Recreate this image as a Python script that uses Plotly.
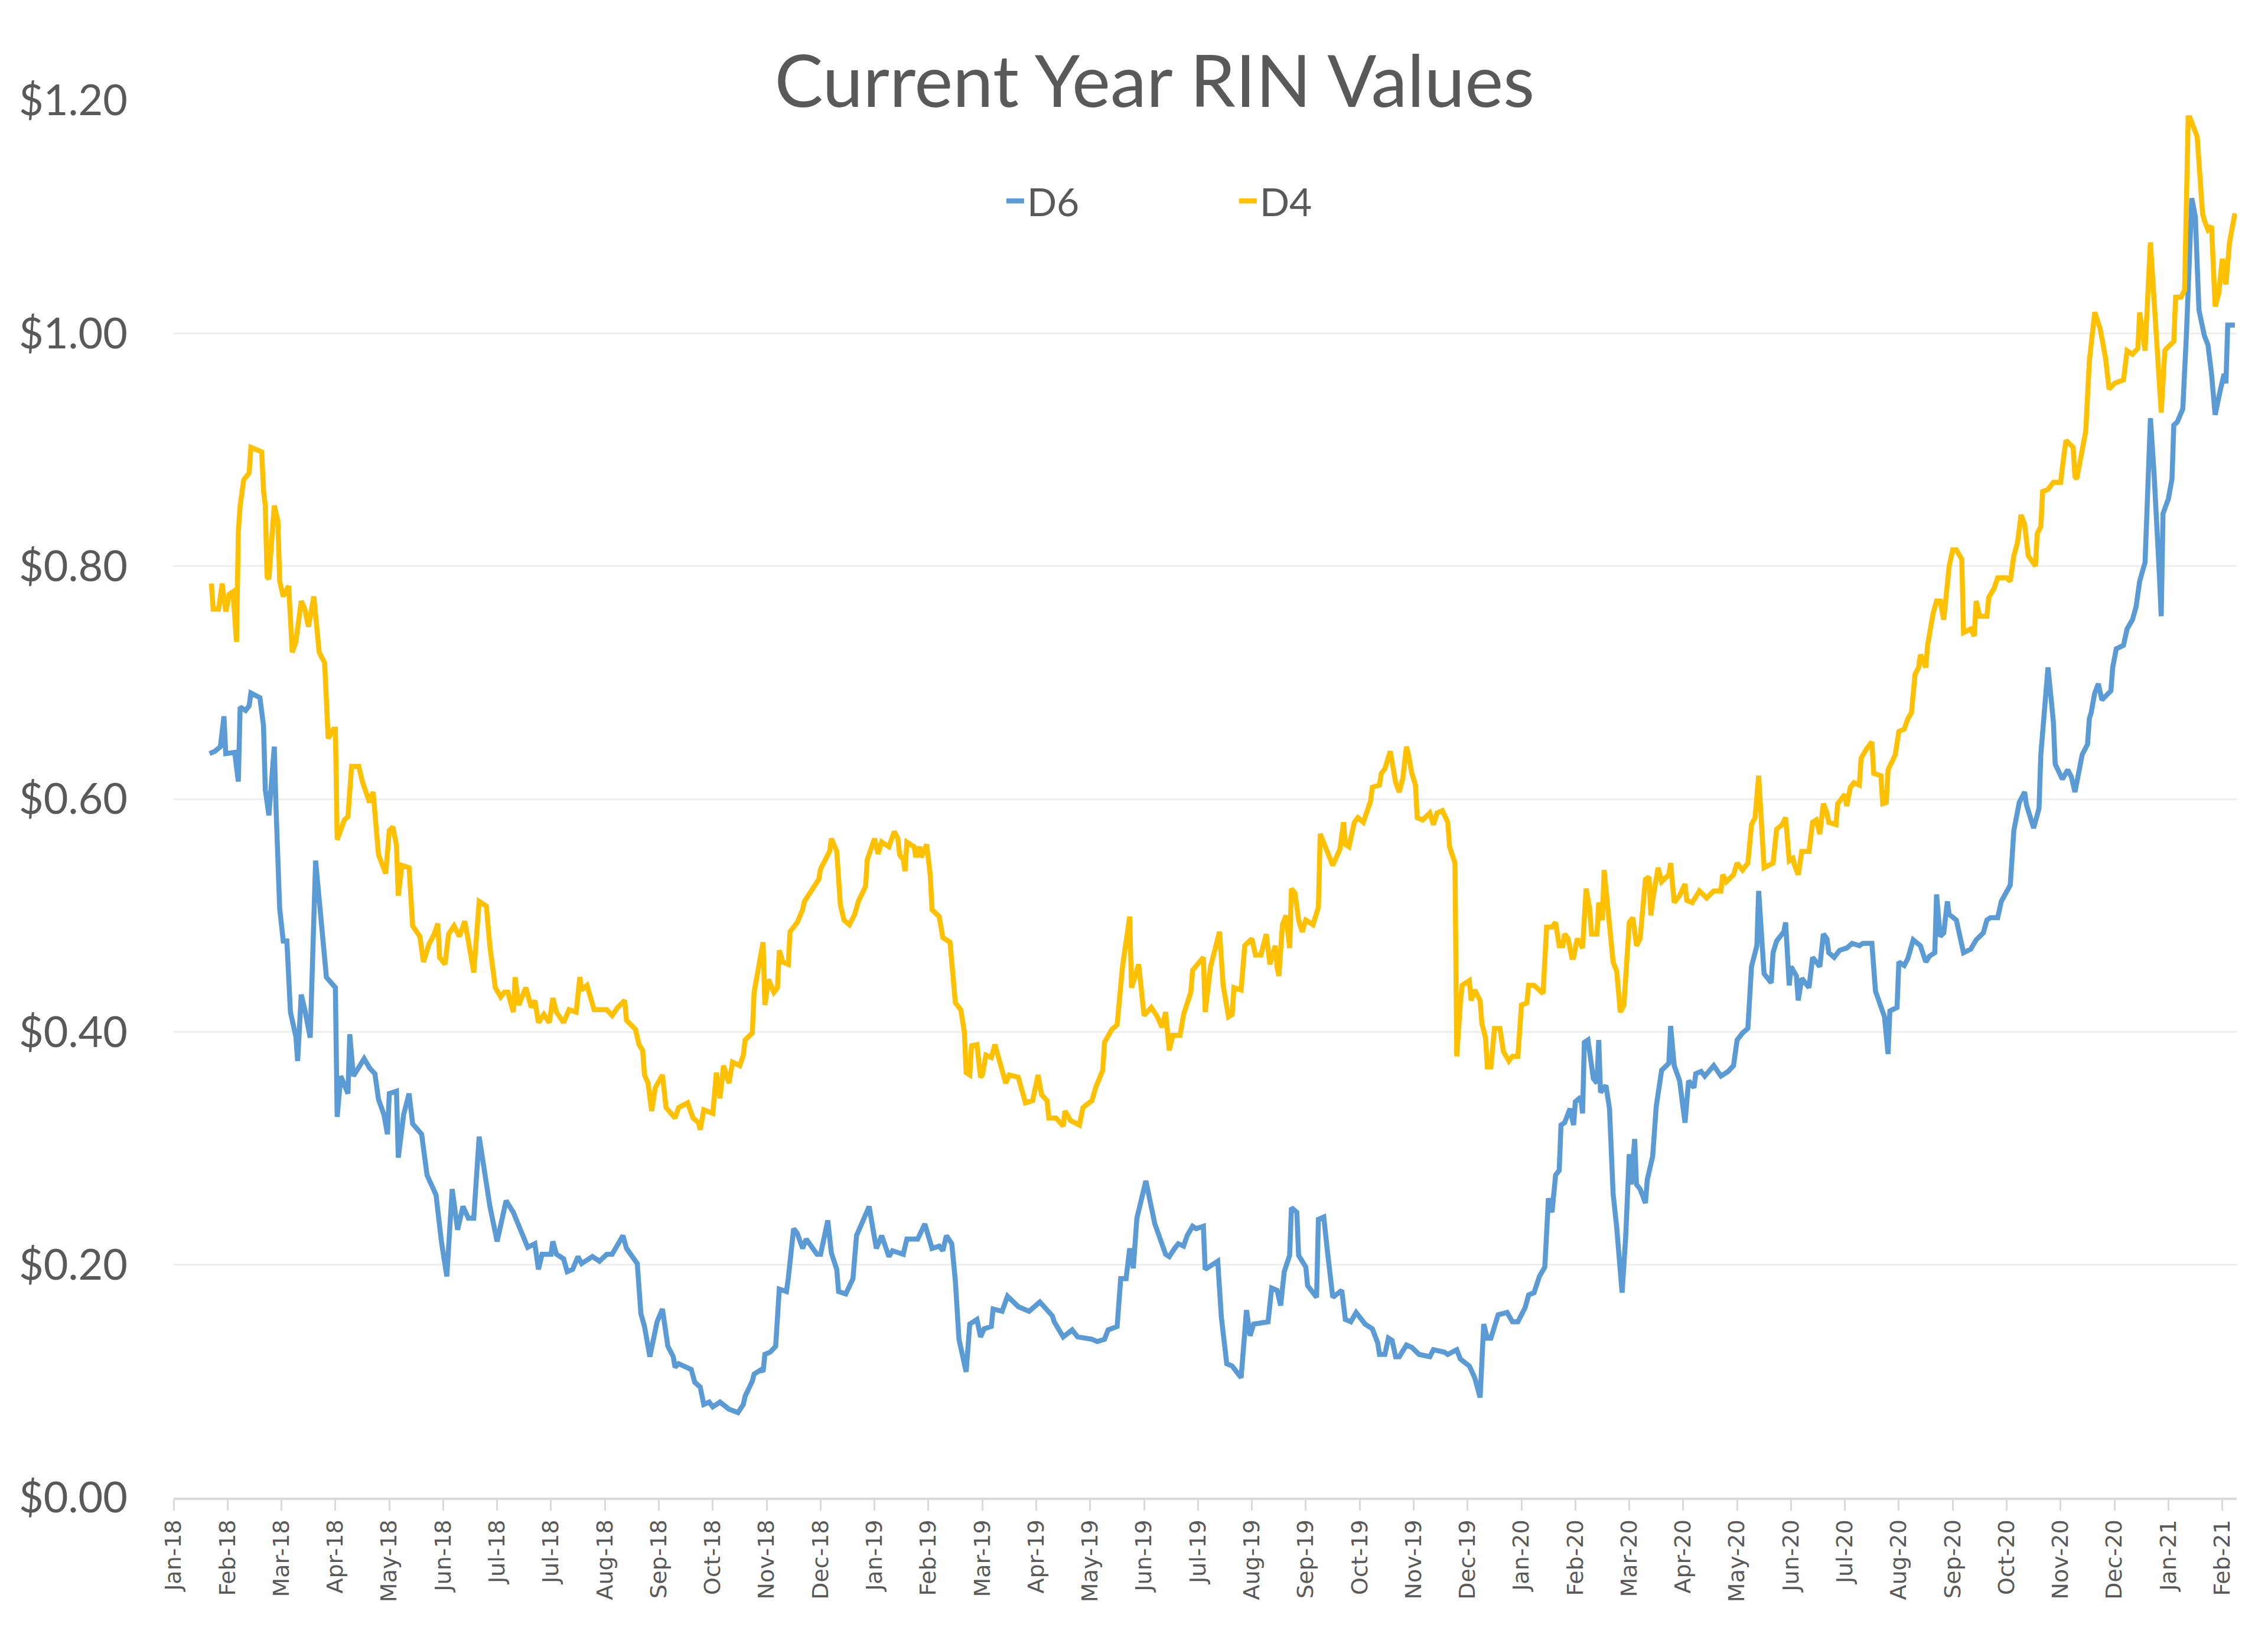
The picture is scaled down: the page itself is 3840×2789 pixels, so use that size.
import plotly.graph_objects as go

# ---------------- data ----------------
d4_dates = [
    "2018-01-23", "2018-01-24", "2018-01-27", "2018-01-29", "2018-01-31", "2018-02-02", "2018-02-04", "2018-02-06",
    "2018-02-07", "2018-02-08", "2018-02-10", "2018-02-13", "2018-02-14", "2018-02-17", "2018-02-20", "2018-02-21",
    "2018-02-22", "2018-02-23", "2018-02-24", "2018-02-27", "2018-03-01", "2018-03-02", "2018-03-04", "2018-03-07",
    "2018-03-09", "2018-03-11", "2018-03-14", "2018-03-16", "2018-03-18", "2018-03-21", "2018-03-24", "2018-03-27",
    "2018-03-29", "2018-04-01", "2018-04-02", "2018-04-03", "2018-04-07", "2018-04-09", "2018-04-11", "2018-04-15",
    "2018-04-17", "2018-04-21", "2018-04-23", "2018-04-26", "2018-04-30", "2018-05-02", "2018-05-04", "2018-05-06",
    "2018-05-07", "2018-05-09", "2018-05-13", "2018-05-15", "2018-05-19", "2018-05-21", "2018-05-24", "2018-05-27",
    "2018-05-29", "2018-05-30", "2018-06-02", "2018-06-04", "2018-06-07", "2018-06-10", "2018-06-13", "2018-06-15",
    "2018-06-18", "2018-06-21", "2018-06-25", "2018-06-27", "2018-06-30", "2018-07-03", "2018-07-05", "2018-07-07",
    "2018-07-10", "2018-07-11", "2018-07-13", "2018-07-17", "2018-07-20", "2018-07-22", "2018-07-24", "2018-07-27",
    "2018-07-30", "2018-08-01", "2018-08-03", "2018-08-07", "2018-08-10", "2018-08-14", "2018-08-16", "2018-08-17",
    "2018-08-20", "2018-08-24", "2018-08-27", "2018-08-31", "2018-09-03", "2018-09-06", "2018-09-10", "2018-09-11",
    "2018-09-16", "2018-09-18", "2018-09-20", "2018-09-21", "2018-09-23", "2018-09-25", "2018-09-27", "2018-10-01",
    "2018-10-03", "2018-10-06", "2018-10-08", "2018-10-10", "2018-10-15", "2018-10-18", "2018-10-21", "2018-10-22",
    "2018-10-24", "2018-10-29", "2018-10-31", "2018-11-02", "2018-11-04", "2018-11-07", "2018-11-09", "2018-11-13",
    "2018-11-15", "2018-11-16", "2018-11-20", "2018-11-21", "2018-11-26", "2018-11-27", "2018-11-29", "2018-12-02",
    "2018-12-04", "2018-12-05", "2018-12-07", "2018-12-10", "2018-12-11", "2018-12-15", "2018-12-18", "2018-12-19",
    "2018-12-25", "2018-12-27", "2018-12-28", "2019-01-02", "2019-01-03", "2019-01-06", "2019-01-08", "2019-01-10",
    "2019-01-13", "2019-01-16", "2019-01-18", "2019-01-22", "2019-01-23", "2019-01-27", "2019-01-29", "2019-01-31",
    "2019-02-04", "2019-02-07", "2019-02-09", "2019-02-10", "2019-02-12", "2019-02-13", "2019-02-14", "2019-02-18",
    "2019-02-19", "2019-02-21", "2019-02-22", "2019-02-25", "2019-02-27", "2019-02-28", "2019-03-04", "2019-03-06",
    "2019-03-10", "2019-03-12", "2019-03-13", "2019-03-16", "2019-03-18", "2019-03-19", "2019-03-21", "2019-03-22",
    "2019-03-25", "2019-03-27", "2019-03-28", "2019-03-30", "2019-04-02", "2019-04-04", "2019-04-07", "2019-04-10",
    "2019-04-12", "2019-04-17", "2019-04-21", "2019-04-25", "2019-04-28", "2019-04-30", "2019-05-03", "2019-05-04",
    "2019-05-08", "2019-05-12", "2019-05-13", "2019-05-16", "2019-05-21", "2019-05-23", "2019-05-28", "2019-05-30",
    "2019-06-03", "2019-06-04", "2019-06-08", "2019-06-11", "2019-06-14", "2019-06-18", "2019-06-19", "2019-06-23",
    "2019-06-26", "2019-06-30", "2019-07-03", "2019-07-06", "2019-07-08", "2019-07-10", "2019-07-12", "2019-07-16",
    "2019-07-18", "2019-07-22", "2019-07-23", "2019-07-29", "2019-07-30", "2019-08-02", "2019-08-04", "2019-08-07",
    "2019-08-09", "2019-08-12", "2019-08-14", "2019-08-15", "2019-08-19", "2019-08-21", "2019-08-25", "2019-08-27",
    "2019-08-30", "2019-09-02", "2019-09-04", "2019-09-07", "2019-09-08", "2019-09-09", "2019-09-11", "2019-09-13",
    "2019-09-15", "2019-09-16", "2019-09-18", "2019-09-20", "2019-09-22", "2019-09-24", "2019-09-28", "2019-10-01",
    "2019-10-02", "2019-10-05", "2019-10-09", "2019-10-13", "2019-10-15", "2019-10-16", "2019-10-18", "2019-10-21",
    "2019-10-23", "2019-10-26", "2019-10-30", "2019-10-31", "2019-11-04", "2019-11-05", "2019-11-07", "2019-11-10",
    "2019-11-13", "2019-11-15", "2019-11-17", "2019-11-19", "2019-11-20", "2019-11-22", "2019-11-24", "2019-11-25",
    "2019-11-28", "2019-12-02", "2019-12-04", "2019-12-06", "2019-12-09", "2019-12-12", "2019-12-13", "2019-12-16",
    "2019-12-17", "2019-12-19", "2019-12-20", "2019-12-24", "2019-12-25", "2019-12-27", "2019-12-30", "2019-12-31",
    "2020-01-02", "2020-01-03", "2020-01-05", "2020-01-07", "2020-01-10", "2020-01-12", "2020-01-15", "2020-01-17",
    "2020-01-20", "2020-01-22", "2020-01-25", "2020-01-26", "2020-01-29", "2020-02-03", "2020-02-05", "2020-02-08",
    "2020-02-10", "2020-02-12", "2020-02-14", "2020-02-15", "2020-02-17", "2020-02-19", "2020-02-20", "2020-02-22",
    "2020-02-25", "2020-02-27", "2020-02-29", "2020-03-01", "2020-03-04", "2020-03-05", "2020-03-07", "2020-03-08",
    "2020-03-10", "2020-03-13", "2020-03-15", "2020-03-17", "2020-03-19", "2020-03-22", "2020-03-24", "2020-03-26",
    "2020-03-28", "2020-03-31", "2020-04-02", "2020-04-03", "2020-04-04", "2020-04-07", "2020-04-09", "2020-04-13",
    "2020-04-14", "2020-04-16", "2020-04-19", "2020-04-22", "2020-04-23", "2020-04-26", "2020-04-30", "2020-05-04",
    "2020-05-08", "2020-05-12", "2020-05-13", "2020-05-15", "2020-05-19", "2020-05-21", "2020-05-24", "2020-05-27",
    "2020-05-29", "2020-05-31", "2020-06-02", "2020-06-05", "2020-06-10", "2020-06-11", "2020-06-12", "2020-06-15",
    "2020-06-17", "2020-06-19", "2020-06-21", "2020-06-22", "2020-06-24", "2020-06-26", "2020-06-30", "2020-07-02",
    "2020-07-04", "2020-07-06", "2020-07-08", "2020-07-10", "2020-07-11", "2020-07-15", "2020-07-16", "2020-07-20",
    "2020-07-21", "2020-07-23", "2020-07-25", "2020-07-28", "2020-07-29", "2020-08-01", "2020-08-04", "2020-08-05",
    "2020-08-09", "2020-08-10", "2020-08-12", "2020-08-13", "2020-08-17", "2020-08-19", "2020-08-22", "2020-08-24",
    "2020-08-26", "2020-08-28", "2020-08-30", "2020-08-31", "2020-09-03", "2020-09-04", "2020-09-07", "2020-09-09",
    "2020-09-11", "2020-09-13", "2020-09-15", "2020-09-16", "2020-09-18", "2020-09-20", "2020-09-23", "2020-09-24",
    "2020-09-28", "2020-09-30", "2020-10-01", "2020-10-03", "2020-10-07", "2020-10-08", "2020-10-11", "2020-10-13",
    "2020-10-18", "2020-10-20", "2020-10-22", "2020-10-24", "2020-10-26", "2020-10-28", "2020-10-30", "2020-11-03",
    "2020-11-04", "2020-11-06", "2020-11-07", "2020-11-10", "2020-11-13", "2020-11-17", "2020-11-19", "2020-11-20",
    "2020-11-24", "2020-11-25", "2020-11-26", "2020-11-29", "2020-12-01", "2020-12-03", "2020-12-06", "2020-12-09",
    "2020-12-12", "2020-12-14", "2020-12-17", "2020-12-22", "2020-12-24", "2020-12-27", "2020-12-30", "2020-12-31",
    "2021-01-01", "2021-01-03", "2021-01-06", "2021-01-08", "2021-01-09", "2021-01-11", "2021-01-12", "2021-01-14",
    "2021-01-15", "2021-01-19", "2021-01-20", "2021-01-23", "2021-01-25", "2021-01-27", "2021-01-28", "2021-02-01",
    "2021-02-03", "2021-02-04", "2021-02-05", "2021-02-07", "2021-02-09", "2021-02-11", "2021-02-13", "2021-02-15",
    "2021-02-17", "2021-02-19", "2021-02-22",
]
d4_values = [
    0.785, 0.763, 0.763, 0.785, 0.761, 0.776, 0.778, 0.735,
    0.830, 0.852, 0.874, 0.880, 0.902, 0.900, 0.898, 0.865,
    0.852, 0.791, 0.789, 0.852, 0.839, 0.787, 0.774, 0.783,
    0.726, 0.735, 0.770, 0.763, 0.748, 0.774, 0.726, 0.717,
    0.652, 0.660, 0.660, 0.565, 0.582, 0.585, 0.628, 0.628,
    0.615, 0.597, 0.606, 0.552, 0.536, 0.573, 0.576, 0.560,
    0.517, 0.543, 0.541, 0.491, 0.482, 0.460, 0.475, 0.484,
    0.493, 0.464, 0.458, 0.484, 0.491, 0.482, 0.495, 0.478,
    0.451, 0.512, 0.508, 0.473, 0.438, 0.430, 0.434, 0.434,
    0.417, 0.447, 0.423, 0.438, 0.421, 0.427, 0.408, 0.415,
    0.408, 0.429, 0.417, 0.408, 0.419, 0.417, 0.447, 0.436,
    0.440, 0.419, 0.419, 0.419, 0.414, 0.421, 0.427, 0.410,
    0.402, 0.389, 0.384, 0.363, 0.356, 0.332, 0.352, 0.363,
    0.335, 0.330, 0.326, 0.335, 0.339, 0.326, 0.322, 0.316,
    0.333, 0.330, 0.365, 0.343, 0.371, 0.356, 0.374, 0.371,
    0.380, 0.393, 0.399, 0.434, 0.477, 0.423, 0.445, 0.434,
    0.438, 0.470, 0.460, 0.458, 0.486, 0.494, 0.505, 0.512,
    0.527, 0.531, 0.540, 0.555, 0.566, 0.555, 0.509, 0.496,
    0.492, 0.501, 0.512, 0.525, 0.548, 0.566, 0.553, 0.563,
    0.559, 0.572, 0.566, 0.552, 0.548, 0.538, 0.563, 0.559,
    0.550, 0.559, 0.550, 0.561, 0.535, 0.505, 0.499, 0.481,
    0.477, 0.445, 0.425, 0.419, 0.400, 0.365, 0.363, 0.388,
    0.389, 0.361, 0.363, 0.380, 0.378, 0.389, 0.371, 0.356,
    0.363, 0.361, 0.339, 0.341, 0.363, 0.346, 0.341, 0.326,
    0.326, 0.319, 0.332, 0.324, 0.320, 0.335, 0.341, 0.352,
    0.367, 0.391, 0.402, 0.406, 0.456, 0.499, 0.438, 0.458,
    0.414, 0.421, 0.414, 0.404, 0.417, 0.384, 0.397, 0.397,
    0.415, 0.434, 0.453, 0.464, 0.417, 0.456, 0.468, 0.486,
    0.440, 0.413, 0.415, 0.438, 0.436, 0.474, 0.480, 0.466,
    0.466, 0.484, 0.458, 0.474, 0.456, 0.448, 0.492, 0.500,
    0.472, 0.523, 0.519, 0.496, 0.486, 0.496, 0.492, 0.507,
    0.570, 0.559, 0.543, 0.557, 0.580, 0.561, 0.559, 0.580,
    0.584, 0.580, 0.598, 0.610, 0.612, 0.622, 0.626, 0.641,
    0.614, 0.606, 0.618, 0.645, 0.639, 0.622, 0.612, 0.584,
    0.582, 0.588, 0.578, 0.588, 0.590, 0.580, 0.559, 0.545,
    0.379, 0.425, 0.440, 0.444, 0.427, 0.436, 0.427, 0.407,
    0.395, 0.370, 0.370, 0.403, 0.403, 0.383, 0.375, 0.379,
    0.379, 0.423, 0.425, 0.440, 0.440, 0.433, 0.490, 0.490,
    0.494, 0.474, 0.474, 0.484, 0.480, 0.464, 0.464, 0.480,
    0.472, 0.523, 0.505, 0.484, 0.484, 0.511, 0.496, 0.539,
    0.505, 0.460, 0.452, 0.417, 0.423, 0.494, 0.498, 0.474,
    0.480, 0.531, 0.533, 0.500, 0.513, 0.541, 0.529, 0.535,
    0.545, 0.511, 0.517, 0.527, 0.513, 0.511, 0.521, 0.515,
    0.521, 0.521, 0.535, 0.529, 0.535, 0.545, 0.539, 0.545,
    0.578, 0.584, 0.620, 0.541, 0.545, 0.565, 0.574, 0.578,
    0.584, 0.547, 0.549, 0.543, 0.535, 0.555, 0.555, 0.580,
    0.582, 0.570, 0.596, 0.588, 0.580, 0.578, 0.596, 0.604,
    0.594, 0.610, 0.614, 0.612, 0.635, 0.643, 0.649, 0.622,
    0.620, 0.596, 0.597, 0.625, 0.638, 0.658, 0.660, 0.669,
    0.674, 0.707, 0.713, 0.724, 0.713, 0.732, 0.759, 0.770,
    0.770, 0.754, 0.792, 0.800, 0.814, 0.814, 0.806, 0.743,
    0.746, 0.740, 0.770, 0.757, 0.757, 0.773, 0.781, 0.790,
    0.790, 0.787, 0.809, 0.820, 0.844, 0.836, 0.809, 0.800,
    0.828, 0.834, 0.864, 0.866, 0.872, 0.872, 0.897, 0.908,
    0.902, 0.877, 0.875, 0.897, 0.916, 0.976, 1.018, 1.004,
    0.979, 0.952, 0.957, 0.960, 0.985, 0.982, 0.987, 1.018,
    1.009, 0.985, 1.078, 1.029, 1.007, 0.968, 0.932, 0.985,
    0.987, 0.993, 1.031, 1.031, 1.037, 1.185, 1.185, 1.169,
    1.114, 1.103, 1.097, 1.089, 1.092, 1.023, 1.034, 1.064,
    1.042, 1.078, 1.103,
]

d6_dates = [
    "2018-01-22", "2018-01-25", "2018-01-28", "2018-01-30", "2018-01-31", "2018-02-03", "2018-02-05", "2018-02-07",
    "2018-02-08", "2018-02-11", "2018-02-13", "2018-02-14", "2018-02-16", "2018-02-19", "2018-02-21", "2018-02-22",
    "2018-02-24", "2018-02-27", "2018-02-28", "2018-03-02", "2018-03-04", "2018-03-06", "2018-03-08", "2018-03-11",
    "2018-03-12", "2018-03-14", "2018-03-16", "2018-03-19", "2018-03-22", "2018-03-24", "2018-03-27", "2018-03-28",
    "2018-04-02", "2018-04-03", "2018-04-05", "2018-04-09", "2018-04-10", "2018-04-12", "2018-04-18", "2018-04-21",
    "2018-04-24", "2018-04-26", "2018-04-29", "2018-05-01", "2018-05-02", "2018-05-06", "2018-05-07", "2018-05-10",
    "2018-05-13", "2018-05-15", "2018-05-20", "2018-05-23", "2018-05-28", "2018-05-31", "2018-06-03", "2018-06-06",
    "2018-06-09", "2018-06-12", "2018-06-15", "2018-06-18", "2018-06-21", "2018-06-23", "2018-06-27", "2018-07-01",
    "2018-07-06", "2018-07-10", "2018-07-14", "2018-07-18", "2018-07-22", "2018-07-24", "2018-07-26", "2018-07-31",
    "2018-08-01", "2018-08-03", "2018-08-07", "2018-08-09", "2018-08-12", "2018-08-15", "2018-08-17", "2018-08-23",
    "2018-08-27", "2018-08-31", "2018-09-03", "2018-09-09", "2018-09-11", "2018-09-14", "2018-09-17", "2018-09-19",
    "2018-09-21", "2018-09-24", "2018-09-28", "2018-10-01", "2018-10-04", "2018-10-07", "2018-10-08", "2018-10-10",
    "2018-10-17", "2018-10-19", "2018-10-22", "2018-10-24", "2018-10-27", "2018-10-29", "2018-11-02", "2018-11-07",
    "2018-11-12", "2018-11-15", "2018-11-16", "2018-11-20", "2018-11-21", "2018-11-25", "2018-11-26", "2018-11-27",
    "2018-11-30", "2018-12-03", "2018-12-05", "2018-12-09", "2018-12-10", "2018-12-13", "2018-12-15", "2018-12-18",
    "2018-12-20", "2018-12-26", "2018-12-28", "2019-01-01", "2019-01-03", "2019-01-06", "2019-01-07", "2019-01-11",
    "2019-01-15", "2019-01-17", "2019-01-23", "2019-01-24", "2019-01-28", "2019-01-31", "2019-02-04", "2019-02-06",
    "2019-02-12", "2019-02-14", "2019-02-20", "2019-02-24", "2019-02-28", "2019-03-04", "2019-03-06", "2019-03-08",
    "2019-03-11", "2019-03-13", "2019-03-15", "2019-03-17", "2019-03-19", "2019-03-21", "2019-03-25", "2019-03-27",
    "2019-03-29", "2019-04-02", "2019-04-03", "2019-04-08", "2019-04-11", "2019-04-17", "2019-04-23", "2019-04-29",
    "2019-05-06", "2019-05-07", "2019-05-12", "2019-05-17", "2019-05-20", "2019-05-28", "2019-05-31", "2019-06-04",
    "2019-06-06", "2019-06-11", "2019-06-13", "2019-06-16", "2019-06-18", "2019-06-20", "2019-06-22", "2019-06-27",
    "2019-06-30", "2019-07-02", "2019-07-08", "2019-07-10", "2019-07-13", "2019-07-15", "2019-07-18", "2019-07-20",
    "2019-07-23", "2019-07-25", "2019-07-29", "2019-07-30", "2019-08-06", "2019-08-08", "2019-08-11", "2019-08-14",
    "2019-08-19", "2019-08-21", "2019-08-22", "2019-08-24", "2019-08-26", "2019-09-03", "2019-09-05", "2019-09-08",
    "2019-09-10", "2019-09-12", "2019-09-15", "2019-09-16", "2019-09-19", "2019-09-20", "2019-09-24", "2019-09-25",
    "2019-09-30", "2019-10-01", "2019-10-04", "2019-10-06", "2019-10-09", "2019-10-14", "2019-10-16", "2019-10-19",
    "2019-10-22", "2019-10-27", "2019-10-31", "2019-11-03", "2019-11-04", "2019-11-07", "2019-11-09", "2019-11-11",
    "2019-11-13", "2019-11-15", "2019-11-19", "2019-11-22", "2019-11-26", "2019-12-02", "2019-12-04", "2019-12-10",
    "2019-12-12", "2019-12-17", "2019-12-19", "2019-12-24", "2019-12-27", "2019-12-30", "2020-01-01", "2020-01-03",
    "2020-01-05", "2020-01-09", "2020-01-14", "2020-01-17", "2020-01-20", "2020-01-24", "2020-01-26", "2020-01-29",
    "2020-02-01", "2020-02-04", "2020-02-06", "2020-02-08", "2020-02-10", "2020-02-12", "2020-02-13", "2020-02-15",
    "2020-02-18", "2020-02-20", "2020-02-21", "2020-02-24", "2020-02-25", "2020-02-26", "2020-02-28", "2020-03-02",
    "2020-03-04", "2020-03-05", "2020-03-06", "2020-03-09", "2020-03-11", "2020-03-13", "2020-03-15", "2020-03-18",
    "2020-03-20", "2020-03-22", "2020-03-23", "2020-03-25", "2020-03-26", "2020-03-28", "2020-03-31", "2020-04-01",
    "2020-04-04", "2020-04-06", "2020-04-09", "2020-04-13", "2020-04-14", "2020-04-16", "2020-04-19", "2020-04-22",
    "2020-04-24", "2020-04-27", "2020-04-28", "2020-05-01", "2020-05-03", "2020-05-08", "2020-05-12", "2020-05-16",
    "2020-05-19", "2020-05-21", "2020-05-24", "2020-05-27", "2020-05-29", "2020-06-01", "2020-06-02", "2020-06-05",
    "2020-06-09", "2020-06-10", "2020-06-12", "2020-06-16", "2020-06-17", "2020-06-19", "2020-06-20", "2020-06-23",
    "2020-06-24", "2020-06-26", "2020-06-30", "2020-07-02", "2020-07-06", "2020-07-08", "2020-07-10", "2020-07-11",
    "2020-07-14", "2020-07-17", "2020-07-21", "2020-07-24", "2020-07-28", "2020-07-30", "2020-08-04", "2020-08-06",
    "2020-08-09", "2020-08-11", "2020-08-13", "2020-08-14", "2020-08-18", "2020-08-19", "2020-08-22", "2020-08-24",
    "2020-08-27", "2020-08-31", "2020-09-03", "2020-09-05", "2020-09-08", "2020-09-09", "2020-09-11", "2020-09-13",
    "2020-09-15", "2020-09-16", "2020-09-20", "2020-09-22", "2020-09-24", "2020-09-28", "2020-10-01", "2020-10-05",
    "2020-10-07", "2020-10-09", "2020-10-13", "2020-10-15", "2020-10-17", "2020-10-20", "2020-10-22", "2020-10-25",
    "2020-10-28", "2020-10-29", "2020-11-02", "2020-11-04", "2020-11-05", "2020-11-06", "2020-11-10", "2020-11-12",
    "2020-11-13", "2020-11-14", "2020-11-18", "2020-11-21", "2020-11-23", "2020-11-25", "2020-11-27", "2020-11-29",
    "2020-12-02", "2020-12-03", "2020-12-04", "2020-12-06", "2020-12-08", "2020-12-10", "2020-12-15", "2020-12-16",
    "2020-12-18", "2020-12-22", "2020-12-24", "2020-12-27", "2020-12-29", "2020-12-31", "2021-01-02", "2021-01-03",
    "2021-01-06", "2021-01-08", "2021-01-11", "2021-01-12", "2021-01-13", "2021-01-16", "2021-01-18", "2021-01-19",
    "2021-01-21", "2021-01-24", "2021-01-26", "2021-01-29", "2021-01-31", "2021-02-02", "2021-02-05", "2021-02-07",
    "2021-02-09", "2021-02-11", "2021-02-14", "2021-02-16", "2021-02-17", "2021-02-18", "2021-02-22",
]
d6_values = [
    0.639, 0.641, 0.645, 0.671, 0.639, 0.640, 0.640, 0.615,
    0.679, 0.676, 0.680, 0.691, 0.689, 0.687, 0.663, 0.608,
    0.586, 0.645, 0.591, 0.506, 0.478, 0.478, 0.417, 0.396,
    0.375, 0.432, 0.419, 0.395, 0.547, 0.515, 0.456, 0.447,
    0.438, 0.327, 0.362, 0.347, 0.398, 0.362, 0.377, 0.369,
    0.364, 0.342, 0.329, 0.312, 0.347, 0.349, 0.292, 0.329,
    0.347, 0.321, 0.312, 0.277, 0.260, 0.220, 0.190, 0.265,
    0.230, 0.250, 0.240, 0.240, 0.310, 0.290, 0.250, 0.220,
    0.255, 0.245, 0.230, 0.215, 0.218, 0.196, 0.209, 0.209,
    0.220, 0.209, 0.205, 0.194, 0.196, 0.207, 0.201, 0.207,
    0.203, 0.209, 0.209, 0.225, 0.214, 0.207, 0.201, 0.158,
    0.147, 0.121, 0.151, 0.162, 0.130, 0.121, 0.112, 0.115,
    0.110, 0.099, 0.095, 0.080, 0.082, 0.078, 0.082, 0.076,
    0.073, 0.080, 0.087, 0.100, 0.106, 0.110, 0.108, 0.123,
    0.125, 0.130, 0.179, 0.177, 0.188, 0.231, 0.227, 0.214,
    0.222, 0.209, 0.209, 0.238, 0.210, 0.196, 0.177, 0.175,
    0.188, 0.225, 0.246, 0.250, 0.214, 0.225, 0.207, 0.212,
    0.209, 0.222, 0.222, 0.235, 0.214, 0.216, 0.212, 0.225,
    0.218, 0.186, 0.136, 0.121, 0.108, 0.149, 0.153, 0.138,
    0.145, 0.147, 0.162, 0.160, 0.173, 0.164, 0.160, 0.168,
    0.156, 0.151, 0.138, 0.144, 0.138, 0.136, 0.134, 0.136,
    0.144, 0.147, 0.188, 0.188, 0.214, 0.197, 0.240, 0.272,
    0.252, 0.235, 0.209, 0.207, 0.214, 0.218, 0.216, 0.225,
    0.233, 0.231, 0.233, 0.196, 0.203, 0.155, 0.115, 0.113,
    0.103, 0.135, 0.161, 0.139, 0.149, 0.151, 0.180, 0.178,
    0.165, 0.194, 0.208, 0.249, 0.245, 0.208, 0.198, 0.182,
    0.172, 0.239, 0.241, 0.212, 0.172, 0.178, 0.153, 0.151,
    0.159, 0.149, 0.145, 0.133, 0.123, 0.123, 0.137, 0.135,
    0.121, 0.121, 0.131, 0.129, 0.123, 0.121, 0.127, 0.125,
    0.123, 0.127, 0.119, 0.113, 0.103, 0.086, 0.149, 0.137,
    0.137, 0.157, 0.159, 0.151, 0.151, 0.163, 0.174, 0.176,
    0.190, 0.198, 0.257, 0.245, 0.277, 0.281, 0.320, 0.322,
    0.334, 0.320, 0.340, 0.344, 0.330, 0.391, 0.393, 0.360,
    0.356, 0.393, 0.348, 0.354, 0.334, 0.261, 0.232, 0.176,
    0.224, 0.295, 0.269, 0.308, 0.269, 0.265, 0.253, 0.273,
    0.293, 0.336, 0.367, 0.373, 0.405, 0.371, 0.358, 0.322,
    0.358, 0.352, 0.364, 0.366, 0.362, 0.371, 0.362, 0.366,
    0.371, 0.393, 0.399, 0.403, 0.456, 0.474, 0.521, 0.450,
    0.442, 0.468, 0.478, 0.486, 0.494, 0.440, 0.456, 0.448,
    0.427, 0.446, 0.438, 0.464, 0.456, 0.484, 0.480, 0.468,
    0.464, 0.470, 0.472, 0.476, 0.474, 0.476, 0.476, 0.435,
    0.423, 0.413, 0.381, 0.418, 0.421, 0.460, 0.457, 0.463,
    0.479, 0.474, 0.460, 0.465, 0.468, 0.518, 0.482, 0.485,
    0.512, 0.501, 0.496, 0.479, 0.468, 0.471, 0.479, 0.485,
    0.496, 0.498, 0.498, 0.512, 0.518, 0.526, 0.573, 0.597,
    0.606, 0.595, 0.575, 0.589, 0.592, 0.638, 0.713, 0.682,
    0.666, 0.630, 0.617, 0.625, 0.619, 0.606, 0.625, 0.638,
    0.647, 0.669, 0.674, 0.691, 0.699, 0.685, 0.693, 0.713,
    0.729, 0.732, 0.746, 0.754, 0.765, 0.787, 0.798, 0.803,
    0.927, 0.880, 0.792, 0.757, 0.845, 0.858, 0.875, 0.921,
    0.924, 0.935, 0.998, 1.116, 1.100, 1.020, 0.998, 0.990,
    0.965, 0.930, 0.952, 0.965, 0.957, 1.007, 1.007,
]

series_names = ["D6", "D4"]
series_colors = ["#5B9BD5", "#FFC000"]

title_text = "Current Year RIN Values"
x_range = ["2018-01-02", "2021-02-23"]
x_tick0 = "2018-01-02"
x_tick_step_days = 30
y_range = [0, 1.2]
y_tick_step = 0.2

# ---------------- figure ----------------
fig = go.Figure()
fig.add_trace(go.Scatter(x=d6_dates, y=d6_values, mode="lines", name=series_names[0],
                         line=dict(color=series_colors[0], width=8.5)))
fig.add_trace(go.Scatter(x=d4_dates, y=d4_values, mode="lines", name=series_names[1],
                         line=dict(color=series_colors[1], width=8.5)))

gray_text = "#595959"

fig.update_layout(
    width=3840, height=2789,
    margin=dict(l=286, r=61, t=162, b=261),
    paper_bgcolor="white", plot_bgcolor="white",
    title=dict(text=title_text, x=0.507, xref="container", xanchor="center",
               y=1 - 130 / 2789, yref="container", yanchor="middle",
               font=dict(family="Lato", size=123, color=gray_text)),
    showlegend=True,
    legend=dict(orientation="h", x=0.515, xanchor="center", y=0.928, yanchor="middle",
                font=dict(family="Lato", size=66, color=gray_text),
                bgcolor="rgba(0,0,0,0)", entrywidth=349, itemwidth=30),
    xaxis=dict(type="date", range=x_range, tick0=x_tick0,
               dtick=x_tick_step_days * 24 * 3600 * 1000, tickformat="%b-%y",
               tickangle=-90, ticks="outside", ticklen=18, tickwidth=3, tickcolor="#d9d9d9",
               showline=True, linecolor="#d9d9d9", linewidth=4, showgrid=False, zeroline=False,
               tickfont=dict(family="DejaVu Sans", size=38, color=gray_text)),
    yaxis=dict(range=y_range, tick0=0, dtick=y_tick_step, tickformat=".2f", tickprefix="$",
               showgrid=True, gridcolor="#eeeeee", gridwidth=3, zeroline=False, ticks="",
               showline=False, ticklabelstandoff=77,
               tickfont=dict(family="Lato", size=72, color=gray_text)),
)

fig.write_html("out.html")
